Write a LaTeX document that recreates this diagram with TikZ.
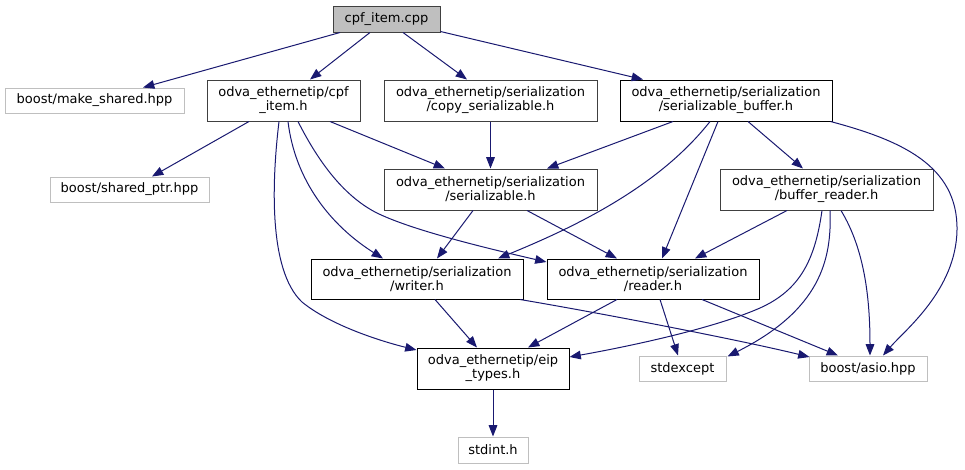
\documentclass[tikz,border=0pt]{standalone}
\usepackage{fontspec}
\setmainfont{DejaVu Sans}
\usetikzlibrary{arrows.meta,calc}
\definecolor{edgec}{HTML}{191970}
\definecolor{extc}{HTML}{BFBFBF}
\definecolor{darkb}{HTML}{404040}
\newcommand\dxfont{\fontsize{9.75}{10.5}\selectfont}
\tikzset{
  hbox/.style={draw=black, fill=white, line width=0.75pt, inner sep=0pt, align=center, font=\dxfont},
  dbox/.style={hbox, draw=darkb},
  ext/.style={hbox, draw=extc},
  edge/.style={draw=edgec, line width=0.75pt, -{Triangle[length=8.5pt,width=6.5pt]}},
}
\begin{document}
\begin{tikzpicture}[x=0.75pt,y=-0.75pt]
\useasboundingbox (0,0) rectangle (965,469);
% nodes
\node[dbox, fill=extc, minimum width=80.25pt, minimum height=19.5pt] (cpf) at (386.5,19) {cpf\_item.cpp};
\node[ext, minimum width=134.25pt, minimum height=18.75pt] (mks) at (94.5,100.5) {boost/make\_shared.hpp};
\node[dbox, minimum width=114.75pt, minimum height=30.75pt] (cpfh) at (283.5,100.5) {odva\_ethernetip/cpf\\\_item.h};
\node[dbox, minimum width=159.75pt, minimum height=30.75pt] (copy) at (490.5,100.5) {odva\_ethernetip/serialization\\/copy\_serializable.h};
\node[hbox, minimum width=159pt, minimum height=30.75pt] (sbuf) at (726,100.5) {odva\_ethernetip/serialization\\/serializable\_buffer.h};
\node[ext, minimum width=119.25pt, minimum height=18.75pt] (shp) at (129.5,189.5) {boost/shared\_ptr.hpp};
\node[dbox, minimum width=159.75pt, minimum height=30.75pt] (ser) at (490.5,189.5) {odva\_ethernetip/serialization\\/serializable.h};
\node[dbox, minimum width=159.75pt, minimum height=30.75pt] (bufr) at (826.5,189.5) {odva\_ethernetip/serialization\\/buffer\_reader.h};
\node[hbox, minimum width=159pt, minimum height=30pt] (writer) at (417,279) {odva\_ethernetip/serialization\\/writer.h};
\node[hbox, minimum width=159pt, minimum height=30pt] (reader) at (653,279) {odva\_ethernetip/serialization\\/reader.h};
\node[hbox, minimum width=114pt, minimum height=30.75pt] (eip) at (493,368.5) {odva\_ethernetip/eip\\\_types.h};
\node[ext, minimum width=65.25pt, minimum height=18.75pt] (stdexc) at (682.5,368.5) {stdexcept};
\node[ext, minimum width=88.5pt, minimum height=18.75pt] (asio) at (868,368.5) {boost/asio.hpp};
\node[ext, minimum width=52.5pt, minimum height=19.5pt] (stdint) at (493,450) {stdint.h};
% edges from cpf_item.cpp
\draw[edge] ($(cpf.south)+(-46.5,0)$) -- ($(mks.north)+(48.5,0)$);
\draw[edge] ($(cpf.south)+(-16.5,0)$) -- ($(cpfh.north)+(26.5,0)$);
\draw[edge] ($(cpf.south)+(16.5,0)$) -- ($(copy.north)+(-23.5,0)$);
\draw[edge] ($(cpf.south east)+(0,-1)$) -- ($(sbuf.north)+(-83,0)$);
% edges from cpf_item.h
\draw[edge] ($(cpfh.south)+(-34.5,0)$) -- ($(shp.north)+(22.5,0)$);
\draw[edge] ($(cpfh.south)+(46.5,0)$) -- ($(ser.north)+(-45.5,0)$);
\draw[edge] ($(cpfh.south)+(4.5,0)$) .. controls (295,180) and (330,225) .. ($(writer.north)+(-34,0)$);
\draw[edge] ($(cpfh.south)+(14.5,0)$) .. controls (320,165) and (345,196) .. (375,212)
  .. controls (410,230) and (490,249) .. ($(reader.west)+(0,-17)$);
\draw[edge] ($(cpfh.south)+(-4.5,0)$) .. controls (272,180) and (268,270) .. (302,302)
  .. controls (330,325) and (380,341) .. ($(eip.west)+(0,-18.5)$);
% copy_serializable
\draw[edge] (copy.south) -- (ser.north);
% serializable_buffer
\draw[edge] ($(sbuf.south)+(-53,0)$) -- ($(ser.north)+(56.5,0)$);
\draw[edge] ($(sbuf.south)+(-16,0)$) .. controls (660,185) and (580,225) .. ($(writer.north)+(81,0)$);
\draw[edge] ($(sbuf.south)+(-8,0)$) -- ($(reader.north)+(9,0)$);
\draw[edge] ($(sbuf.south)+(22,0)$) -- ($(bufr.north)+(-23.5,0)$);
\draw[edge] ($(sbuf.south east)+(-2,0)$) .. controls (900,140) and (958,165) .. (957,230)
  .. controls (956,290) and (905,330) .. ($(asio.north)+(15,0)$);
% serializable.h
\draw[edge] ($(ser.south)+(-17.5,0)$) -- ($(writer.north)+(20,0)$);
\draw[edge] ($(ser.south)+(36.5,0)$) -- ($(reader.north)+(-36,0)$);
% buffer_reader.h
\draw[edge] ($(bufr.south)+(-39.5,0)$) -- ($(reader.north)+(42,0)$);
\draw[edge] ($(bufr.south)+(-4.5,0)$) .. controls (815,260) and (800,290) .. (760,308)
  .. controls (710,330) and (620,348) .. ($(eip.east)+(0,-11.5)$);
\draw[edge] ($(bufr.south)+(3.5,0)$) .. controls (832,260) and (820,310) .. ($(stdexc.east)+(1,-12)$);
\draw[edge] ($(bufr.south)+(14.5,0)$) .. controls (865,250) and (870,300) .. ($(asio.north)+(2,0)$);
% writer.h
\draw[edge] ($(writer.south)+(18,0)$) -- ($(eip.north)+(-16,0)$);
\draw[edge] ($(writer.south)+(103,0)$) .. controls (600,313) and (740,340) .. ($(asio.west)+(1,-11.5)$);
% reader.h
\draw[edge] ($(reader.south)+(-36,0)$) -- ($(eip.north)+(35,0)$);
\draw[edge] ($(reader.south)+(7,0)$) -- ($(stdexc.north)+(-4.5,0)$);
\draw[edge] ($(reader.south)+(49,0)$) -- ($(asio.north)+(-30,0)$);
% eip_types.h
\draw[edge] (eip.south) -- (stdint.north);
\end{tikzpicture}
\end{document}
